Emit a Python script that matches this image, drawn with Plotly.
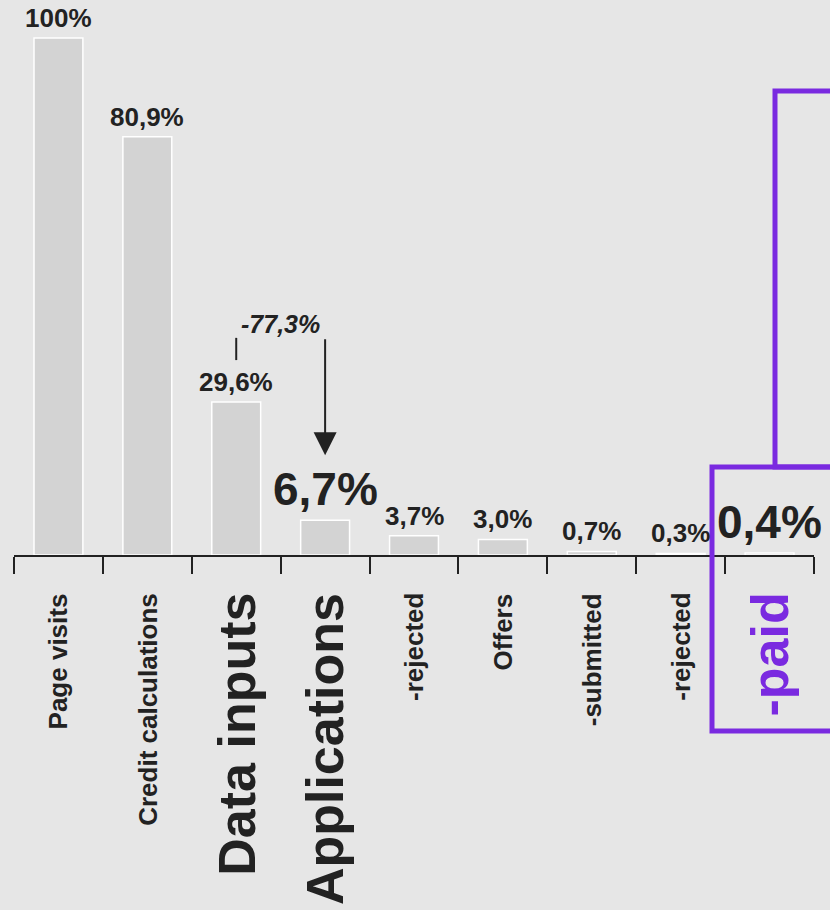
import plotly.graph_objects as go

categories = ["Page visits", "Credit calculations", "Data inputs", "Applications",
              "-rejected", "Offers", "-submitted", "-rejected ", "-paid"]
values = [100, 80.9, 29.6, 6.7, 3.7, 3.0, 0.7, 0.3, 0.4]
value_labels = ["100%", "80,9%", "29,6%", "6,7%", "3,7%", "3,0%", "0,7%", "0,3%", "0,4%"]
value_sizes = [26, 26, 26, 46, 26, 26, 26, 26, 46]
cat_sizes = [26, 26, 52, 52, 26, 26, 26, 26, 52]
highlight = [False] * 8 + [True]
drop_label = "-77,3%"

FONT = "Liberation Sans, Arial, Helvetica, sans-serif"
TXT = "#222222"
PURPLE = "#7a2ae0"
BG = "#e6e6e6"

fig = go.Figure()
fig.add_trace(go.Bar(
    x=categories, y=values, width=0.55,
    marker=dict(color="#d3d3d3", line=dict(color="white", width=1.5)),
    hoverinfo="skip", showlegend=False,
))

ann = []
for c, v, lab, s in zip(categories, values, value_labels, value_sizes):
    ann.append(dict(x=c, y=v, xref="x", yref="y", text="<b>%s</b>" % lab,
                    showarrow=False, yanchor="bottom", xanchor="center", yshift=3,
                    font=dict(family=FONT, size=s, color=TXT)))
for c, s, h in zip(categories, cat_sizes, highlight):
    ann.append(dict(x=c, y=0, xref="x", yref="paper", text="<b>%s</b>" % c.strip(),
                    showarrow=False, textangle=-90, yanchor="top", xanchor="center",
                    yshift=-36, font=dict(family=FONT, size=s, color=PURPLE if h else TXT)))

# drop annotation between Data inputs and Applications
ann.append(dict(x=2.5, y=44.7, xref="x", yref="y", text="<b><i>%s</i></b>" % drop_label,
                showarrow=False, font=dict(family=FONT, size=25, color=TXT)))
ann.append(dict(x=3, y=19.3, ax=3, ay=42.0, xref="x", yref="y", axref="x", ayref="y",
                text="", showarrow=True, arrowhead=2, arrowsize=2.3, arrowwidth=2,
                arrowcolor=TXT, standoff=0))

shapes = [
    dict(type="line", xref="x", yref="y", x0=2, x1=2, y0=37.7, y1=42.0,
         line=dict(color=TXT, width=2)),
    dict(type="rect", xref="paper", yref="paper", x0=0.8725, x1=1.2, y0=-0.317, y1=0.1586,
         line=dict(color=PURPLE, width=5), layer="above"),
    dict(type="rect", xref="paper", yref="paper", x0=0.95125, x1=1.2, y0=0.1586, y1=0.836,
         line=dict(color=PURPLE, width=5), layer="above"),
]

fig.update_layout(
    width=830, height=910,
    margin=dict(l=14, r=16, t=0, b=355),
    paper_bgcolor=BG, plot_bgcolor=BG,
    annotations=ann, shapes=shapes,
    bargap=0.45,
    xaxis=dict(range=[-0.5, 8.5], showgrid=False, zeroline=False, showline=True,
               linecolor=TXT, linewidth=2, ticks="outside", tickson="boundaries",
               ticklen=17, tickwidth=2, tickcolor=TXT, showticklabels=False,
               fixedrange=True),
    yaxis=dict(range=[0, 107.35], visible=False, fixedrange=True),
)

fig.write_html("out.html", config={"displayModeBar": False},
               post_script="document.body.style.margin='0';document.body.style.background='%s';" % BG)
